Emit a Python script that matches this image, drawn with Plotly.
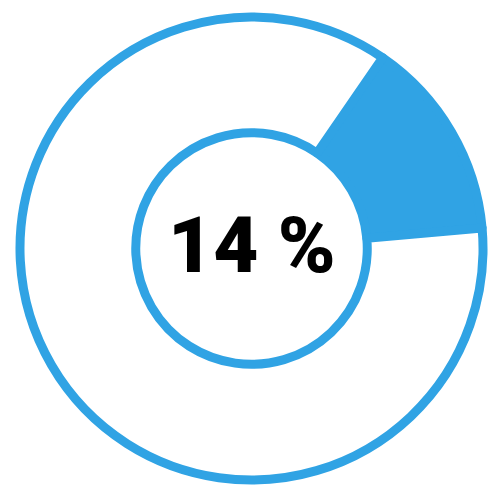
import plotly.graph_objects as go

# share shown in the ring: filled part vs. the rest
labels = ["Filled", "Rest"]
values = [14, 86]
center_label = "14 %"

_BLUE = "#30A3E4"

fig = go.Figure(go.Pie(
    labels=labels,
    values=values,
    hole=0.5,
    sort=False,
    direction="clockwise",
    rotation=34.5,
    textinfo="none",
    hoverinfo="skip",
    marker=dict(colors=[_BLUE, "#FFFFFF"], line=dict(color=_BLUE, width=9)),
    showlegend=False,
))

# page body adds an 8px margin, so the left/top margins are trimmed to match
fig.update_layout(
    width=500,
    height=500,
    margin=dict(l=12, r=25, t=9, b=28),
    paper_bgcolor="#FFFFFF",
    plot_bgcolor="#FFFFFF",
    annotations=[dict(
        text=center_label,
        x=0.5, y=0.5, xref="paper", yref="paper",
        yshift=3,
        showarrow=False,
        font=dict(family="Roboto, sans-serif", size=78, color="#000000",
                  weight=900),
    )],
)

fig.write_html("out.html", config={"displayModeBar": False})
